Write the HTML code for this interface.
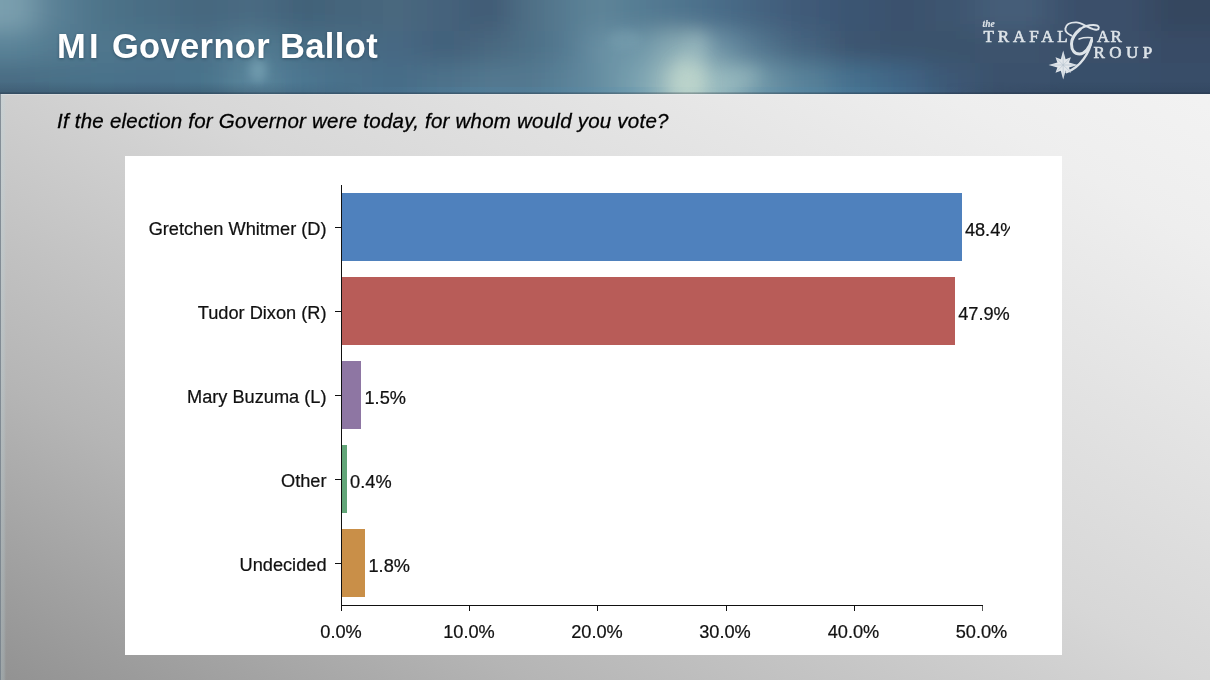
<!DOCTYPE html>
<html>
<head>
<meta charset="utf-8">
<title>MI Governor Ballot</title>
<style>
  html, body { margin: 0; padding: 0; }
  body {
    width: 1210px; height: 680px; overflow: hidden; position: relative;
    font-family: "Liberation Sans", sans-serif;
    background: #d0d0d0;
  }
  #slide {
    will-change: transform; transform: translateZ(0);
    position: absolute; left: 0; top: 0; width: 1210px; height: 680px; overflow: hidden;
    background: linear-gradient(to bottom left, #f5f5f5 0%, #eeeeee 18%, #d7d7d7 50%, #b5b5b5 78%, #929292 100%);
  }
  #leftedge { position: absolute; left: 0; top: 94px; width: 6px; height: 586px;
    background: linear-gradient(to right, rgba(120,132,142,0.85) 0, rgba(120,132,142,0.85) 1px, rgba(190,215,222,0.30) 1px, rgba(190,215,222,0.22) 4px, rgba(190,215,222,0) 6px); }
  #topedge { position: absolute; left: 1px; top: 94px; width: 1209px; height: 1px; background: rgba(236,242,248,0.32); }

  /* ---------- header ---------- */
  #header {
    position: absolute; left: 0; top: 0; width: 1210px; height: 94px; overflow: hidden;
    background: linear-gradient(to right,
      #6b90a4 0px, #5d8398 40px, #4f7489 110px, #47697f 200px, #4b6f86 300px,
      #4a6c84 380px, #45647d 440px, #557990 520px, #678ca1 600px, #7a9dab 680px,
      #66889d 730px, #4b6884 790px, #3d5674 860px, #39506c 1000px, #3a4f6a 1210px);
  }
  #hband { position: absolute; left: 0; top: 82px; width: 1210px; height: 12px;
    background: linear-gradient(to bottom, rgba(40,60,82,0) 0, rgba(40,60,82,0.30) 100%);
    -webkit-mask-image: linear-gradient(to right, #000 0, #000 20%, transparent 30%, transparent 78%, #000 88%, #000 100%);
            mask-image: linear-gradient(to right, #000 0, #000 20%, transparent 30%, transparent 78%, #000 88%, #000 100%); }

  #title {
    position: absolute; left: 57px; top: 26px; margin: 0;
    font-weight: bold; font-size: 34.5px; line-height: 40px; letter-spacing: 0.36px;
    color: #ffffff; white-space: nowrap;
    text-shadow: 0 1px 3px rgba(20,40,60,0.45);
  }
  #subtitle {
    position: absolute; left: 57px; top: 108px; margin: 0;
    font-style: italic; font-size: 20.5px; line-height: 26px; letter-spacing: 0.23px;
    color: #000; -webkit-text-stroke: 0.3px #000; white-space: nowrap;
  }

  /* ---------- chart ---------- */
  #panel { position: absolute; left: 125px; top: 156px; width: 937px; height: 499px; background: #ffffff; }
  #plot { position: absolute; left: 0; top: 0; width: 885px; height: 499px; overflow: hidden; }
  .bar { position: absolute; height: 68px; }
  .ylab { -webkit-text-stroke: 0.22px #111; transform: scaleY(1.045); transform-origin: 50% 78%; position: absolute; right: 683.5px; width: 300px; text-align: right; font-size: 18.2px; line-height: 20px; color: #111; white-space: nowrap; }
  .val  { -webkit-text-stroke: 0.22px #111; transform: scaleY(1.045); transform-origin: 50% 78%; position: absolute; font-size: 18.2px; line-height: 20px; color: #111; white-space: nowrap; }
  .xlab { -webkit-text-stroke: 0.22px #111; transform: scaleY(1.045); transform-origin: 50% 78%; position: absolute; top: 466px; width: 80px; margin-left: -40px; text-align: center; font-size: 18.2px; line-height: 20px; color: #111; }
  .ytick { position: absolute; left: 210px; width: 6px; height: 1px; background: #111; }
  .xtick { position: absolute; top: 450px; width: 1px; height: 5px; background: #111; }
</style>
</head>
<body>
<div id="slide">

  <div id="header">
    <svg id="sky" width="1210" height="94" viewBox="0 0 1210 94" style="position:absolute; left:0; top:0;">
      <defs>
        <filter id="skyblur" x="-10%" y="-80%" width="120%" height="260%"><feGaussianBlur stdDeviation="16 11"/></filter>
        <filter id="spotblur" x="-60%" y="-60%" width="220%" height="220%"><feGaussianBlur stdDeviation="5"/></filter>
        <filter id="plumeblur" x="-100%" y="-100%" width="300%" height="300%"><feGaussianBlur stdDeviation="8"/></filter>
        <linearGradient id="bandg" x1="0" y1="0" x2="1" y2="0">
          <stop offset="0" stop-color="#4f8cb0" stop-opacity="0"/><stop offset="0.2" stop-color="#4f8cb0" stop-opacity="0.22"/>
          <stop offset="0.45" stop-color="#4f8cb0" stop-opacity="0.2"/><stop offset="0.52" stop-color="#4f8cb0" stop-opacity="0.03"/>
          <stop offset="0.6" stop-color="#4f8cb0" stop-opacity="0.03"/><stop offset="0.7" stop-color="#4f8cb0" stop-opacity="0.22"/>
          <stop offset="1" stop-color="#4f8cb0" stop-opacity="0"/>
        </linearGradient>
        <linearGradient id="darkband" x1="0" y1="0" x2="1" y2="0">
          <stop offset="0" stop-color="#2c4258" stop-opacity="0.35"/><stop offset="0.25" stop-color="#2c4258" stop-opacity="0.25"/>
          <stop offset="0.33" stop-color="#2c4258" stop-opacity="0"/><stop offset="0.8" stop-color="#2c4258" stop-opacity="0"/>
          <stop offset="0.88" stop-color="#2c4258" stop-opacity="0.22"/><stop offset="1" stop-color="#2c4258" stop-opacity="0.25"/>
        </linearGradient>
      </defs>
      <rect x="0" y="0" width="1210" height="94" fill="#4a6c84"/>
      <g filter="url(#skyblur)">
        <rect x="-80" y="-60" width="116" height="91" fill="#7A9FAE"/><rect x="-80" y="31" width="116" height="32" fill="#5A8398"/><rect x="-80" y="63" width="116" height="97" fill="#4A6C83"/><rect x="35" y="-60" width="46" height="91" fill="#587F94"/><rect x="35" y="31" width="46" height="32" fill="#527A90"/><rect x="35" y="63" width="46" height="97" fill="#4A7087"/><rect x="80" y="-60" width="46" height="91" fill="#4E7389"/><rect x="80" y="31" width="46" height="32" fill="#4F768D"/><rect x="80" y="63" width="46" height="97" fill="#4A728A"/><rect x="125" y="-60" width="51" height="91" fill="#4A6D84"/><rect x="125" y="31" width="51" height="32" fill="#4D748B"/><rect x="125" y="63" width="51" height="97" fill="#48708A"/><rect x="175" y="-60" width="54" height="91" fill="#47687F"/><rect x="175" y="31" width="54" height="32" fill="#4B7088"/><rect x="175" y="63" width="54" height="97" fill="#4A738B"/><rect x="228" y="-60" width="51" height="91" fill="#496B82"/><rect x="228" y="31" width="51" height="32" fill="#527B92"/><rect x="228" y="63" width="51" height="97" fill="#5A859B"/><rect x="278" y="-60" width="48" height="91" fill="#436279"/><rect x="278" y="31" width="48" height="32" fill="#4A6F87"/><rect x="278" y="63" width="48" height="97" fill="#4B7690"/><rect x="325" y="-60" width="48" height="91" fill="#45657C"/><rect x="325" y="31" width="48" height="32" fill="#496C84"/><rect x="325" y="63" width="48" height="97" fill="#48708A"/><rect x="372" y="-60" width="51" height="91" fill="#48677E"/><rect x="372" y="31" width="51" height="32" fill="#476883"/><rect x="372" y="63" width="51" height="97" fill="#476D88"/><rect x="422" y="-60" width="48" height="91" fill="#44627B"/><rect x="422" y="31" width="48" height="32" fill="#43607A"/><rect x="422" y="63" width="48" height="97" fill="#4D728B"/><rect x="470" y="-60" width="41" height="91" fill="#405A75"/><rect x="470" y="31" width="41" height="32" fill="#48677F"/><rect x="470" y="63" width="41" height="97" fill="#527890"/><rect x="510" y="-60" width="41" height="91" fill="#4F6F86"/><rect x="510" y="31" width="41" height="32" fill="#4E6F87"/><rect x="510" y="63" width="41" height="97" fill="#52788F"/><rect x="550" y="-60" width="36" height="91" fill="#577B92"/><rect x="550" y="31" width="36" height="32" fill="#557A92"/><rect x="550" y="63" width="36" height="97" fill="#5A8299"/><rect x="585" y="-60" width="36" height="91" fill="#5F8599"/><rect x="585" y="31" width="36" height="32" fill="#6B92A5"/><rect x="585" y="63" width="36" height="97" fill="#668EA2"/><rect x="620" y="-60" width="44" height="91" fill="#557B93"/><rect x="620" y="31" width="44" height="32" fill="#6E96A8"/><rect x="620" y="63" width="44" height="97" fill="#7AA3B1"/><rect x="662" y="-60" width="41" height="91" fill="#4F748E"/><rect x="662" y="31" width="41" height="32" fill="#8FB0B8"/><rect x="662" y="63" width="41" height="97" fill="#B0CBC7"/><rect x="702" y="-60" width="38" height="91" fill="#4A6C88"/><rect x="702" y="31" width="38" height="32" fill="#6A90A4"/><rect x="702" y="63" width="38" height="97" fill="#94B7BD"/><rect x="740" y="-60" width="41" height="91" fill="#456380"/><rect x="740" y="31" width="41" height="32" fill="#52768F"/><rect x="740" y="63" width="41" height="97" fill="#7097A8"/><rect x="780" y="-60" width="51" height="91" fill="#3F5A78"/><rect x="780" y="31" width="51" height="32" fill="#44637F"/><rect x="780" y="63" width="51" height="97" fill="#58829A"/><rect x="830" y="-60" width="51" height="91" fill="#3B5472"/><rect x="830" y="31" width="51" height="32" fill="#3C5570"/><rect x="830" y="63" width="51" height="97" fill="#44708E"/><rect x="880" y="-60" width="46" height="91" fill="#3A516D"/><rect x="880" y="31" width="46" height="32" fill="#3A526D"/><rect x="880" y="63" width="46" height="97" fill="#406585"/><rect x="925" y="-60" width="51" height="91" fill="#3C546F"/><rect x="925" y="31" width="51" height="32" fill="#3B526C"/><rect x="925" y="63" width="51" height="97" fill="#3D5876"/><rect x="975" y="-60" width="76" height="91" fill="#445D78"/><rect x="975" y="31" width="76" height="32" fill="#3C536D"/><rect x="975" y="63" width="76" height="97" fill="#3A516C"/><rect x="1050" y="-60" width="101" height="91" fill="#3A506A"/><rect x="1050" y="31" width="101" height="32" fill="#3A4F69"/><rect x="1050" y="63" width="101" height="97" fill="#39506A"/><rect x="1150" y="-60" width="141" height="91" fill="#36475F"/><rect x="1150" y="31" width="141" height="32" fill="#384C66"/><rect x="1150" y="63" width="141" height="97" fill="#394E68"/>
      </g>
      <ellipse cx="258" cy="70" rx="9" ry="12" fill="#86b0c0" opacity="0.5" filter="url(#spotblur)"/>
      <ellipse cx="689" cy="82" rx="17" ry="24" fill="#c6dccf" opacity="0.6" filter="url(#plumeblur)"/>
      <ellipse cx="696" cy="50" rx="12" ry="18" fill="#a9c6c8" opacity="0.4" filter="url(#plumeblur)" transform="rotate(14 696 50)"/>
      <ellipse cx="738" cy="80" rx="24" ry="10" fill="#a4c4c6" opacity="0.38" filter="url(#plumeblur)" transform="rotate(-18 738 80)"/>
      <ellipse cx="625" cy="40" rx="16" ry="10" fill="#7ea4b4" opacity="0.35" filter="url(#spotblur)"/>
      <rect x="340" y="87" width="640" height="6" fill="url(#bandg)" opacity="0.9"/>
      <rect x="0" y="92.4" width="1210" height="1.6" fill="#1c2836" opacity="0.32"/>
    </svg>
    <div id="hband"></div>
  </div>

  <svg id="logo" width="1210" height="94" viewBox="0 0 1210 94" style="position:absolute; left:0; top:0; overflow:visible;">
    <g fill="#dde3e8" stroke="#dde3e8" stroke-width="0.6" font-family="'Liberation Serif', serif">
      <text x="982.6" y="27.1" font-size="9.4" font-style="italic" font-weight="bold" stroke-width="0.15">the</text>
      <text x="983.6" y="41.7" font-size="17" letter-spacing="3.85">TRAFAL</text>
      <text x="1097" y="41.7" font-size="17" letter-spacing="1.2">AR</text>
      <text x="1093.4" y="57.6" font-size="17" letter-spacing="4.5">ROUP</text>
    </g>
    <g fill="none" stroke="#dde3e8" stroke-linecap="round" stroke-linejoin="round">
      <path d="M1071.5,35.6 C1068,34 1065,31 1065.4,28.5 C1066,24.5 1070,22.3 1076.3,22.4 C1081,22.6 1085,26 1093.2,29.2 C1096,30.2 1099,29.8 1098.8,27.5 C1098.6,25.5 1096,25 1093.2,25 C1088,25 1083,27 1080.3,29" stroke-width="1.9"/>
      <path d="M1080.3,29 C1075,33.5 1071.5,39 1071.5,44 C1071.5,50 1074.5,54 1079.5,54 C1085,54 1089.5,48 1091.6,40.5" stroke-width="3.0"/>
      <path d="M1079,38.9 C1083,37.6 1088,37.3 1092.2,37.8" stroke-width="1.6"/>
      <path d="M1091.8,39 C1091,45.5 1088,53 1083.6,59 C1079.6,64.5 1074.5,69.5 1066.5,72.2" stroke-width="2.3"/>
    </g>
    <polygon points="1063.2,50.4 1065.6,59.2 1070.9,57.3 1069.0,62.6 1077.8,65.0 1069.0,67.4 1070.9,72.7 1065.6,70.8 1063.2,79.6 1060.8,70.8 1055.5,72.7 1057.4,67.4 1048.6,65.0 1057.4,62.6 1055.5,57.3 1060.8,59.2" fill="#e2e7eb"/>
    <g stroke="#b4c1cc" stroke-width="0.6">
      <line x1="1063.2" y1="53.0" x2="1063.2" y2="77.0"/>
      <line x1="1051.2" y1="65.0" x2="1075.2" y2="65.0"/>
      <line x1="1056.7" y1="58.5" x2="1069.7" y2="71.5"/>
      <line x1="1056.7" y1="71.5" x2="1069.7" y2="58.5"/>
    </g>
  </svg>

  <div id="title"><span style="letter-spacing:3.3px">MI</span> Governor Ballot</div>
  <div id="subtitle">If the election for Governor were today, for whom would you vote?</div>

  <div id="leftedge"></div>
  <div id="topedge"></div>

  <div id="panel">
    <div id="plot">
      <!-- bars -->
      <div class="bar" style="left:217px; top:37px;  width:620px;  background:#4f81bd;"></div>
      <div class="bar" style="left:217px; top:121px; width:612.8px; background:#b85c58;"></div>
      <div class="bar" style="left:217px; top:205px; width:19.2px;  background:#8e76a3;"></div>
      <div class="bar" style="left:217px; top:289px; width:5.1px;   background:#62a578;"></div>
      <div class="bar" style="left:217px; top:373px; width:23px;    background:#c98f48;"></div>

      <!-- value labels -->
      <div class="val" style="left:839.9px; top:64px;">48.4%</div>
      <div class="val" style="left:833.2px; top:148px;">47.9%</div>
      <div class="val" style="left:239.5px; top:232px;">1.5%</div>
      <div class="val" style="left:225.1px; top:316px;">0.4%</div>
      <div class="val" style="left:243.5px; top:400px;">1.8%</div>

      <!-- y labels -->
      <div class="ylab" style="top:62.5px;">Gretchen Whitmer (D)</div>
      <div class="ylab" style="top:146.5px;">Tudor Dixon (R)</div>
      <div class="ylab" style="top:230.5px;">Mary Buzuma (L)</div>
      <div class="ylab" style="top:314.5px;">Other</div>
      <div class="ylab" style="top:398.5px;">Undecided</div>

      <!-- y ticks -->
      <div class="ytick" style="top:71px;"></div>
      <div class="ytick" style="top:155px;"></div>
      <div class="ytick" style="top:239px;"></div>
      <div class="ytick" style="top:323px;"></div>
      <div class="ytick" style="top:407px;"></div>
    </div>

    <!-- axes -->
    <div style="position:absolute; left:216px; top:29px; width:1px; height:421px; background:#111;"></div>
    <div style="position:absolute; left:216px; top:449px; width:642px; height:1px; background:#111;"></div>

    <!-- x ticks -->
    <div class="xtick" style="left:216px;"></div>
    <div class="xtick" style="left:344px;"></div>
    <div class="xtick" style="left:472.3px;"></div>
    <div class="xtick" style="left:600.5px;"></div>
    <div class="xtick" style="left:728.7px;"></div>
    <div class="xtick" style="left:857px; opacity:0.7;"></div>

    <!-- x labels -->
    <div class="xlab" style="left:216px;">0.0%</div>
    <div class="xlab" style="left:344px;">10.0%</div>
    <div class="xlab" style="left:472px;">20.0%</div>
    <div class="xlab" style="left:600px;">30.0%</div>
    <div class="xlab" style="left:728.5px;">40.0%</div>
    <div class="xlab" style="left:856.5px;">50.0%</div>
  </div>

</div>
</body>
</html>
